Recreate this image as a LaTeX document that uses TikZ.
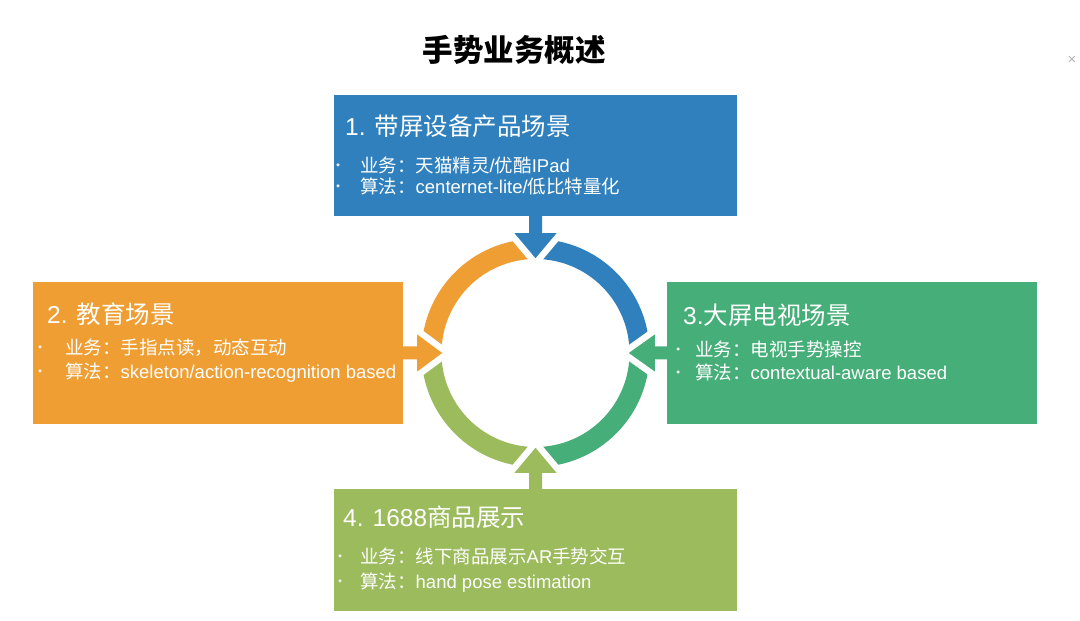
\documentclass[tikz,border=0pt]{standalone}
\usepackage{fontspec}
\setmainfont{Liberation Sans}
\newfontfamily\cjk{Noto Sans CJK SC}
\newcommand\zh[1]{{\cjk #1}}
\definecolor{cblue}{RGB}{47,128,189}
\definecolor{corange}{RGB}{238,158,51}
\definecolor{cgreen}{RGB}{70,174,120}
\definecolor{clgreen}{RGB}{155,187,92}
\pgfdeclarelayer{bglayer}
\pgfdeclarelayer{ringlayer}
\pgfdeclarelayer{arrowlayer}
\pgfsetlayers{bglayer,ringlayer,arrowlayer,main}
\begin{document}
\begin{tikzpicture}[x=1pt,y=1pt,
  box/.style={rectangle, inner sep=0pt, draw=none},
  arr/.style={fill=#1, preaction={draw=white, line width=13pt, line join=round}},
  head/.style={anchor=base west, inner sep=0pt, text=white, font=\fontsize{24.5}{29}\selectfont},
  item/.style={anchor=base west, inner sep=0pt, text=white, font=\fontsize{18.5}{22}\selectfont},
  bdot/.style={circle, fill=white!85!gray, inner sep=0pt, minimum size=3.5pt}]
\useasboundingbox (0,0) rectangle (1080,621);
\begin{pgfonlayer}{bglayer}
\fill[white] (0,0) rectangle (1080,621);
\end{pgfonlayer}

% title
\node[font=\cjk\bfseries\fontsize{30.5}{36}\selectfont, text=black] (title) at (514,571) {手势业务概述};
\node[text=gray!60, font=\fontsize{15}{15}\selectfont] (xmark) at (1072,561) {×};

% boxes
\node[box, fill=cblue, minimum width=403pt, minimum height=121pt] (b1) at (535.5,465.5) {};
\node[box, fill=corange, minimum width=370pt, minimum height=142pt] (b2) at (218,268) {};
\node[box, fill=cgreen, minimum width=370pt, minimum height=142pt] (b3) at (852,268) {};
\node[box, fill=clgreen, minimum width=403pt, minimum height=122pt] (b4) at (535.5,71) {};
\coordinate (c) at (535.5,268);

% ring
\begin{pgfonlayer}{ringlayer}
\fill[cblue] (c) ++(0:94) -- ++(0:20) arc[start angle=0, end angle=90, radius=114] -- ++(270:20) arc[start angle=90, end angle=0, radius=94] -- cycle;
\fill[corange] (c) ++(90:94) -- ++(90:20) arc[start angle=90, end angle=180, radius=114] -- ++(0:20) arc[start angle=180, end angle=90, radius=94] -- cycle;
\fill[clgreen] (c) ++(180:94) -- ++(180:20) arc[start angle=180, end angle=270, radius=114] -- ++(90:20) arc[start angle=270, end angle=180, radius=94] -- cycle;
\fill[cgreen] (c) ++(270:94) -- ++(270:20) arc[start angle=270, end angle=360, radius=114] -- ++(180:20) arc[start angle=360, end angle=270, radius=94] -- cycle;
\end{pgfonlayer}

% arrows
\begin{pgfonlayer}{arrowlayer}
\path[arr=cblue] ([xshift=-6.5pt]b1.south) -- ++(0,-17) -- ++(-14.5,0) -- ++(21,-25) -- ++(21,25) -- ++(-14.5,0) -- ++(0,17) -- cycle;
\path[arr=clgreen] ([xshift=-6.5pt]b4.north) -- ++(0,16) -- ++(-14.5,0) -- ++(21,25) -- ++(21,-25) -- ++(-14.5,0) -- ++(0,-16) -- cycle;
\path[arr=corange] ([yshift=-6.5pt]b2.east) -- ++(14,0) -- ++(0,-12) -- ++(25,18.5) -- ++(-25,18.5) -- ++(0,-12) -- ++(-14,0) -- cycle;
\path[arr=cgreen] ([yshift=-6.5pt]b3.west) -- ++(-12,0) -- ++(0,-12) -- ++(-26,18.5) -- ++(26,18.5) -- ++(0,-12) -- ++(12,0) -- cycle;
\end{pgfonlayer}

% texts blue
\node[head] (t1) at (345,485) {1. \zh{带屏设备产品场景}};
\node[bdot] (d11) at (338,456) {};
\node[item] (i11) at (360,448.3) {\zh{业务：天猫精灵}/\zh{优酷}IPad};
\node[bdot] (d12) at (338,435) {};
\node[item] (i12) at (360,427.3) {\zh{算法：}centernet-lite/\zh{低比特量化}};

% texts orange
\node[head] (t2) at (47,297) {2. \zh{教育场景}};
\node[bdot] (d21) at (40,274) {};
\node[item] (i21) at (65,266.3) {\zh{业务：手指点读，动态互动}};
\node[bdot] (d22) at (40,250) {};
\node[item] (i22) at (65,242.3) {\zh{算法：}skeleton/action-recognition based};

% texts green
\node[head] (t3) at (683,296) {3.\zh{大屏电视场景}};
\node[bdot] (d31) at (678,272) {};
\node[item] (i31) at (695,264.3) {\zh{业务：电视手势操控}};
\node[bdot] (d32) at (678,249) {};
\node[item] (i32) at (695,241.3) {\zh{算法：}contextual-aware based};

% texts light green
\node[head] (t4) at (343,94) {4. 1688\zh{商品展示}};
\node[bdot] (d41) at (340,65) {};
\node[item] (i41) at (360,57.3) {\zh{业务：线下商品展示}AR\zh{手势交互}};
\node[bdot] (d42) at (340,40) {};
\node[item] (i42) at (360,32.3) {\zh{算法：}hand pose estimation};
\end{tikzpicture}
\end{document}
